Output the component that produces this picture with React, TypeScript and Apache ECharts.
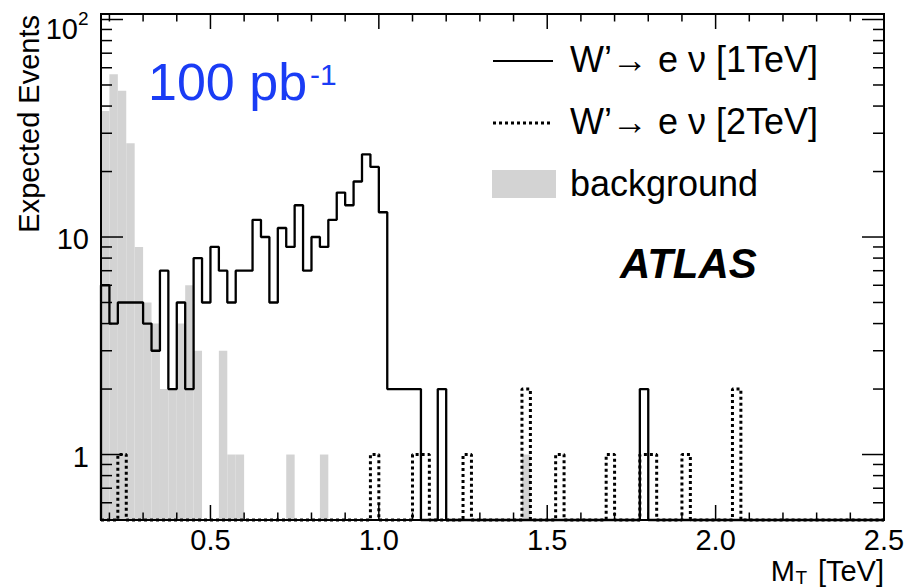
import React, { useEffect, useRef } from "react";
import * as echarts from "echarts";

// ---- axis ranges / binning ----
const X_MIN = 0.175;
const X_MAX = 2.5;
const BIN_WIDTH = 0.025;
const Y_MIN = 0.5;
const Y_MAX = 106;

// ---- histogram contents (93 bins of 0.025 TeV from 0.175 TeV) ----
const background = [
  38, 56, 47, 27, 9, 5, 4, 2, 2, 4,
  6, 3, 0, 0, 3, 1, 1, 0, 0, 0,
  0, 0, 1, 0, 0, 0, 1, 0, 0, 0,
  0, 0, 0, 0, 0, 0, 0, 0, 0, 0,
  0, 0, 0, 0, 0, 0, 0, 0, 0, 0,
  1, 0, 0, 0, 0, 0, 0, 0, 0, 0,
  0, 0, 0, 0, 0, 0, 0, 0, 0, 0,
  0, 0, 0, 0, 0, 0, 0, 0, 0, 0,
  0, 0, 0, 0, 0, 0, 0, 0, 0, 0,
  0, 0, 0,
];

const signal1TeV = [
  6, 4, 5, 5, 5, 4, 3, 7, 2, 5,
  2, 8, 5, 9, 7, 5, 7, 7, 12, 10,
  5, 11, 9, 14, 7, 10, 9, 12, 16, 14,
  18, 24, 21, 13, 2, 2, 2, 2, 0, 0,
  2, 0, 0, 0, 0, 0, 0, 0, 0, 0,
  0, 0, 0, 0, 0, 0, 0, 0, 0, 0,
  0, 0, 0, 0, 2, 0, 0, 0, 0, 0,
  0, 0, 0, 0, 0, 0, 0, 0, 0, 0,
  0, 0, 0, 0, 0, 0, 0, 0, 0, 0,
  0, 0, 0,
];

const signal2TeV = [
  0, 0, 1, 0, 0, 0, 0, 0, 0, 0,
  0, 0, 0, 0, 0, 0, 0, 0, 0, 0,
  0, 0, 0, 0, 0, 0, 0, 0, 0, 0,
  0, 0, 1, 0, 0, 0, 0, 1, 1, 0,
  0, 0, 0, 1, 0, 0, 0, 0, 0, 0,
  2, 0, 0, 0, 1, 0, 0, 0, 0, 0,
  1, 0, 0, 0, 1, 1, 0, 0, 0, 1,
  0, 0, 0, 0, 0, 2, 0, 0, 0, 0,
  0, 0, 0, 0, 0, 0, 0, 0, 0, 0,
  0, 0, 0,
];

// ---- ticks ----
const xMajorTicks = [0.5, 1.0, 1.5, 2.0, 2.5];
const xTickLabels = ["0.5", "1.0", "1.5", "2.0", "2.5"];
const xMinorTicks = [0.2, 0.3, 0.4, 0.6, 0.7, 0.8, 0.9, 1.1, 1.2, 1.3, 1.4, 1.6, 1.7, 1.8, 1.9, 2.1, 2.2, 2.3, 2.4];
const yMajorTicks = [1, 10, 100];
const yTickLabels = ["1", "10", "10"];
const yTickExponents = ["", "", "2"];
const yMinorTicks = [0.6, 0.7, 0.8, 0.9, 2, 3, 4, 5, 6, 7, 8, 9, 20, 30, 40, 50, 60, 70, 80, 90];

const FONT = "'Liberation Sans', Arial, Helvetica, sans-serif";
const GRAY = "#d3d3d3";

const edge = (i: number) => Math.round((X_MIN + i * BIN_WIDTH) * 1000) / 1000;

function stepData(vals: number[]) {
  const pts: number[][] = [[X_MIN, Y_MIN]];
  vals.forEach((v, i) => pts.push([edge(i), Math.max(v, Y_MIN)]));
  pts.push([X_MAX, Math.max(vals[vals.length - 1], Y_MIN)]);
  return pts;
}

export default function App() {
  const ref = useRef<HTMLDivElement>(null);

  useEffect(() => {
    if (!ref.current) return;
    const chart = echarts.init(ref.current, undefined, { renderer: "svg" });

    const bgData = background
      .map((v, i) => [edge(i), edge(i + 1), v])
      .filter((d) => d[2] > 0);

    const xTickData = [
      ...xMajorTicks.map((v, i) => [v, Y_MIN, 1, i]),
      ...xMinorTicks.map((v) => [v, Y_MIN, 0, -1]),
    ];
    const yTickData = [
      ...yMajorTicks.map((v, i) => [X_MIN, v, 1, i]),
      ...yMinorTicks.map((v) => [X_MIN, v, 0, -1]),
    ];

    const tickStyle = { stroke: "#000", lineWidth: 1.5 };

    const option: any = {
      animation: false,
      grid: { left: 101, right: 24, top: 14, bottom: 68, show: false },
      xAxis: { type: "value", min: X_MIN, max: X_MAX, show: false },
      yAxis: { type: "log", logBase: 10, min: Y_MIN, max: Y_MAX, show: false },
      series: [
        {
          name: "background",
          type: "custom",
          z: 1,
          encode: { x: [0, 1], y: 2 },
          data: bgData,
          renderItem: (params: any, api: any) => {
            const p1 = api.coord([api.value(0), api.value(2)]);
            const p2 = api.coord([api.value(1), Y_MIN]);
            return {
              type: "rect",
              shape: { x: p1[0], y: p1[1], width: p2[0] - p1[0], height: p2[1] - p1[1] },
              style: { fill: GRAY },
            };
          },
        },
        {
          name: "frame",
          type: "custom",
          z: 2,
          encode: { x: 0, y: 1 },
          data: [[X_MIN, Y_MIN]],
          renderItem: (params: any) => {
            const cs = params.coordSys;
            return {
              type: "rect",
              shape: { x: cs.x, y: cs.y, width: cs.width, height: cs.height },
              style: { fill: "none", stroke: "#000", lineWidth: 2 },
            };
          },
        },
        {
          name: "W' 2TeV",
          type: "line",
          z: 3,
          step: "end",
          symbol: "none",
          clip: false,
          data: stepData(signal2TeV),
          lineStyle: { color: "#000", width: 3, type: [3, 3], cap: "butt" },
        },
        {
          name: "W' 1TeV",
          type: "line",
          z: 4,
          step: "end",
          symbol: "none",
          clip: false,
          data: stepData(signal1TeV),
          lineStyle: { color: "#000", width: 2.3, type: "solid" },
        },
        {
          name: "xticks",
          type: "custom",
          z: 5,
          encode: { x: 0, y: 1 },
          data: xTickData,
          renderItem: (params: any, api: any) => {
            const cs = params.coordSys;
            const px = api.coord([api.value(0), Y_MIN])[0];
            const major = api.value(2) === 1;
            const len = major ? 15 : 7.5;
            const b = cs.y + cs.height;
            const t = cs.y;
            const children: any[] = [
              { type: "line", shape: { x1: px, y1: b, x2: px, y2: b - len }, style: tickStyle },
              { type: "line", shape: { x1: px, y1: t, x2: px, y2: t + len }, style: tickStyle },
            ];
            if (major) {
              children.push({
                type: "text",
                x: px,
                y: b + 20,
                style: {
                  text: xTickLabels[api.value(3)],
                  fontSize: 29,
                  fontFamily: FONT,
                  fill: "#000",
                  align: "center",
                  verticalAlign: "middle",
                },
              });
            }
            return { type: "group", children };
          },
        },
        {
          name: "yticks",
          type: "custom",
          z: 5,
          encode: { x: 0, y: 1 },
          data: yTickData,
          renderItem: (params: any, api: any) => {
            const cs = params.coordSys;
            const py = api.coord([X_MIN, api.value(1)])[1];
            const major = api.value(2) === 1;
            const len = major ? 22 : 11;
            const l = cs.x;
            const r = cs.x + cs.width;
            const children: any[] = [
              { type: "line", shape: { x1: l, y1: py, x2: l + len, y2: py }, style: tickStyle },
              { type: "line", shape: { x1: r, y1: py, x2: r - len, y2: py }, style: tickStyle },
            ];
            if (major) {
              const idx = api.value(3);
              const exp = yTickExponents[idx];
              const right = l - 12;
              if (exp) {
                children.push({
                  type: "text",
                  x: right - 11,
                  y: py + 9,
                  style: { text: yTickLabels[idx], fontSize: 29, fontFamily: FONT, fill: "#000", align: "right", verticalAlign: "middle" },
                });
                children.push({
                  type: "text",
                  x: right - 11,
                  y: py - 1,
                  style: { text: exp, fontSize: 19, fontFamily: FONT, fill: "#000", align: "left", verticalAlign: "middle" },
                });
              } else {
                children.push({
                  type: "text",
                  x: right,
                  y: py + 2,
                  style: { text: yTickLabels[idx], fontSize: 29, fontFamily: FONT, fill: "#000", align: "right", verticalAlign: "middle" },
                });
              }
            }
            return { type: "group", children };
          },
        },
      ],
      graphic: [
        // luminosity label
        { type: "text", x: 148, y: 82, z: 10, style: { text: "100 pb", fontSize: 52, fontFamily: FONT, fill: "#1a3cf5", align: "left", verticalAlign: "middle" } },
        { type: "text", x: 310, y: 74, z: 10, style: { text: "-1", fontSize: 30, fontFamily: FONT, fill: "#1a3cf5", align: "left", verticalAlign: "middle" } },
        // ATLAS
        { type: "text", x: 620, y: 263, z: 10, style: { text: "ATLAS", fontSize: 42, fontWeight: "bold", fontStyle: "italic", fontFamily: FONT, fill: "#000", align: "left", verticalAlign: "middle" } },
        // legend
        { type: "line", z: 10, shape: { x1: 493, y1: 61, x2: 553, y2: 61 }, style: { stroke: "#000", lineWidth: 2.2 } },
        { type: "text", x: 570, y: 59, z: 10, style: { text: "W’→ e ν [1TeV]", fontSize: 36, fontFamily: FONT, fill: "#000", align: "left", verticalAlign: "middle" } },
        { type: "line", z: 10, shape: { x1: 493, y1: 123, x2: 553, y2: 123 }, style: { stroke: "#000", lineWidth: 3, lineDash: [3, 3] } },
        { type: "text", x: 570, y: 121, z: 10, style: { text: "W’→ e ν [2TeV]", fontSize: 36, fontFamily: FONT, fill: "#000", align: "left", verticalAlign: "middle" } },
        { type: "rect", z: 10, shape: { x: 492, y: 170, width: 64, height: 28 }, style: { fill: GRAY } },
        { type: "text", x: 570, y: 183, z: 10, style: { text: "background", fontSize: 36, fontFamily: FONT, fill: "#000", align: "left", verticalAlign: "middle" } },
        // axis titles
        { type: "text", x: 29, y: 15, rotation: Math.PI / 2, z: 10, style: { text: "Expected Events", fontSize: 29, fontFamily: FONT, fill: "#000", align: "right", verticalAlign: "middle" } },
        { type: "text", x: 884, y: 571, z: 10, style: { text: " [TeV]", fontSize: 29, fontFamily: FONT, fill: "#000", align: "right", verticalAlign: "middle" } },
        { type: "text", x: 807, y: 577, z: 10, style: { text: "T", fontSize: 19, fontFamily: FONT, fill: "#000", align: "right", verticalAlign: "middle" } },
        { type: "text", x: 795, y: 571, z: 10, style: { text: "M", fontSize: 29, fontFamily: FONT, fill: "#000", align: "right", verticalAlign: "middle" } },
      ],
    };

    chart.setOption(option);
    return () => chart.dispose();
  }, []);

  return (
    <div
      ref={ref}
      style={{ position: "absolute", left: 0, top: 0, width: 908, height: 588, background: "#fff" }}
    />
  );
}
